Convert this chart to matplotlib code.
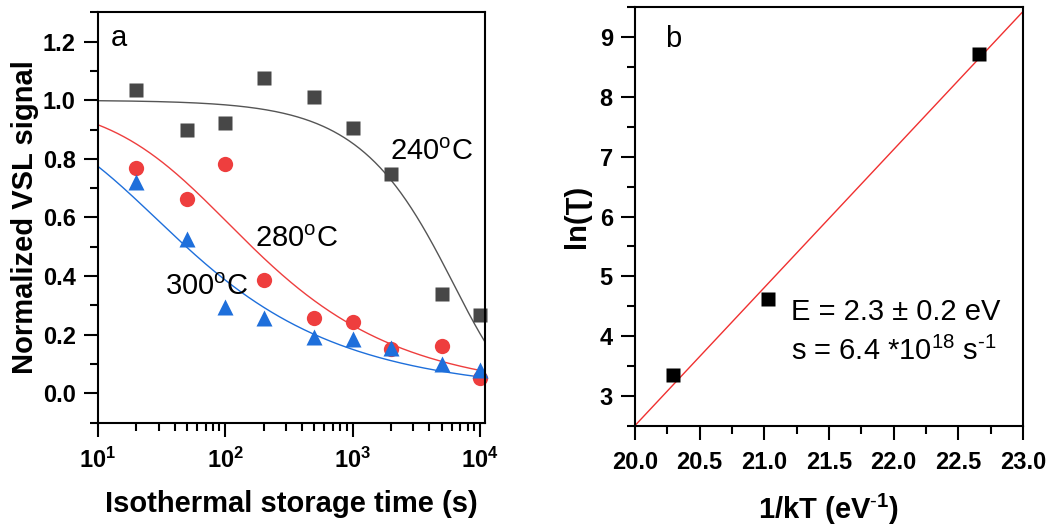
import numpy as np
import matplotlib
matplotlib.use("Agg")
import matplotlib.pyplot as plt
from matplotlib.ticker import MultipleLocator, FixedLocator, LogLocator, NullFormatter

plt.rcParams['font.family'] = ['Liberation Sans', 'DejaVu Sans']
plt.rcParams['mathtext.fontset'] = 'custom'
plt.rcParams['mathtext.rm'] = 'Liberation Sans'
plt.rcParams['mathtext.bf'] = 'Liberation Sans:bold'
plt.rcParams['mathtext.it'] = 'Liberation Sans:italic'

# ---- Panel a data ----
time_s = [20, 50, 100, 200, 500, 1000, 2000, 5000, 10000]
sig_240 = [1.036, 0.897, 0.922, 1.075, 1.011, 0.906, 0.749, 0.339, 0.268]
sig_280 = [0.770, 0.662, 0.781, 0.387, 0.256, 0.242, 0.151, 0.160, 0.052]
sig_300 = [0.721, 0.525, 0.296, 0.256, 0.194, 0.185, 0.154, 0.101, 0.080]

# fit parameters
tau_240 = 6300.0                 # first-order: exp(-t/tau)
tau_280, p_280 = 50.0, 0.48      # general order: (1+t/tau)^-p
tau_300, p_300 = 12.3, 0.43

# ---- Panel b data ----
inv_kT = [20.29, 21.03, 22.66]
ln_tau = [3.35, 4.63, 8.72]

col_k = '#474747'
col_r = '#EE3E3E'
col_b = '#1E6FDB'

fig = plt.figure(figsize=(10.58, 5.28), dpi=100)
ax1 = fig.add_axes([98/1058, 1-422.7/528, (485-98)/1058, (422.7-12.3)/528])
ax2 = fig.add_axes([635/1058, 1-426/528, (1023-635)/1058, (426-7)/528])

tt = np.logspace(1, np.log10(11000), 300)
ax1.plot(tt, np.exp(-tt/tau_240), color='#555555', lw=1.0)
ax1.plot(tt, (1+tt/tau_280)**(-p_280), color=col_r, lw=1.0)
ax1.plot(tt, (1+tt/tau_300)**(-p_300), color=col_b, lw=1.0)
ax1.plot(time_s, sig_240, 's', color=col_k, ms=10, mec='none', clip_on=False)
ax1.plot(time_s, sig_280, 'o', color=col_r, ms=11, mec='none', clip_on=False)
ax1.plot(time_s, sig_300, '^', color=col_b, ms=12, mec='none', clip_on=False)

ax1.set_xscale('log')
ax1.set_xlim(10, 10**4.04)
ax1.set_ylim(-0.1, 1.3)
ax1.xaxis.set_major_locator(FixedLocator([10, 100, 1000, 10000]))
ax1.set_xticklabels([r'$\mathbf{10^{1}}$', r'$\mathbf{10^{2}}$', r'$\mathbf{10^{3}}$', r'$\mathbf{10^{4}}$'])
ax1.xaxis.set_minor_locator(LogLocator(base=10, subs=np.arange(2, 10)))
ax1.xaxis.set_minor_formatter(NullFormatter())
ax1.yaxis.set_major_locator(FixedLocator([0.0, 0.2, 0.4, 0.6, 0.8, 1.0, 1.2]))
ax1.yaxis.set_minor_locator(MultipleLocator(0.1))
ax1.set_yticklabels(['0.0', '0.2', '0.4', '0.6', '0.8', '1.0', '1.2'])
ax1.set_xlabel('Isothermal storage time (s)', fontsize=21, fontweight='bold', labelpad=12)
ax1.set_ylabel('Normalized VSL signal', fontsize=21, fontweight='bold', labelpad=3)
ax1.text(12.7, 1.186, 'a', fontsize=21, va='baseline')
ax1.text(1955, 0.795, r'240$^\mathregular{o}$C', fontsize=21, va='baseline', ha='left')
ax1.text(170, 0.50, r'280$^\mathregular{o}$C', fontsize=21, va='baseline', ha='left')
ax1.text(33.8, 0.336, r'300$^\mathregular{o}$C', fontsize=21, va='baseline', ha='left')

# panel b
slope, icpt = np.polyfit(inv_kT, ln_tau, 1)
xx = np.array([20.0, 23.0])
ax2.plot(xx, slope*xx + icpt, color='#F03030', lw=1.0)
ax2.plot(inv_kT, ln_tau, 's', color='black', ms=10, mec='none')
ax2.set_xlim(20.0, 23.0)
ax2.set_ylim(2.5, 9.5)
ax2.xaxis.set_major_locator(MultipleLocator(0.5))
ax2.xaxis.set_minor_locator(MultipleLocator(0.25))
ax2.yaxis.set_major_locator(MultipleLocator(1))
ax2.yaxis.set_minor_locator(MultipleLocator(0.5))
ax2.set_xticks(np.arange(20.0, 23.01, 0.5))
ax2.set_xticklabels(['%.1f' % v for v in np.arange(20.0, 23.01, 0.5)])
ax2.set_xlabel(r'1/kT (eV$^{\mathbf{\text{-}1}}$)', fontsize=21, fontweight='bold', labelpad=13)
ax2.set_ylabel('ln(Ʈ)', fontsize=21, fontweight='bold', labelpad=6)
ax2.text(20.23, 8.84, 'b', fontsize=21, va='baseline')
ax2.text(21.21, 4.27, 'E = 2.3 ± 0.2 eV', fontsize=21, va='baseline')
ax2.text(21.21, 3.60, r's = 6.4 *10$^{18}$ s$^{\text{-}1}$', fontsize=21, va='baseline')

for ax in (ax1, ax2):
    for sp in ax.spines.values():
        sp.set_linewidth(1.5)
    ax.tick_params(which='major', direction='out', length=10, width=1.5, labelsize=17, pad=6)
    ax.tick_params(which='minor', direction='out', length=6, width=1.5)
    ax.tick_params(axis='x', which='major', pad=8)
    for lab in ax.get_xticklabels() + ax.get_yticklabels():
        lab.set_fontweight('bold')

fig.savefig('out.png', dpi=100)
